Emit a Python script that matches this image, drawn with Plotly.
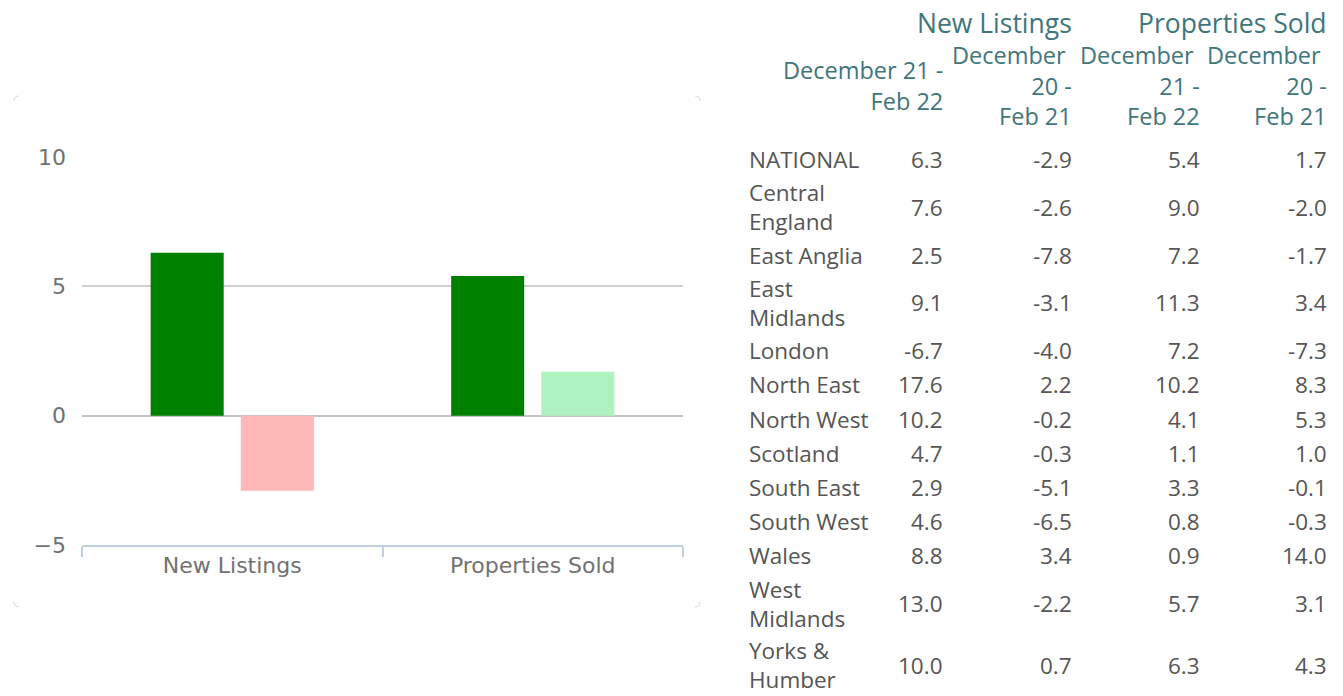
import plotly.graph_objects as go

# ---------------- data ----------------
regions = ["NATIONAL", "Central England", "East Anglia", "East Midlands", "London",
           "North East", "North West", "Scotland", "South East", "South West",
           "Wales", "West Midlands", "Yorks & Humber"]
region_lines = [["NATIONAL"], ["Central", "England"], ["East Anglia"], ["East", "Midlands"],
                ["London"], ["North East"], ["North West"], ["Scotland"], ["South East"],
                ["South West"], ["Wales"], ["West", "Midlands"], ["Yorks &", "Humber"]]
nl_cur = [6.3, 7.6, 2.5, 9.1, -6.7, 17.6, 10.2, 4.7, 2.9, 4.6, 8.8, 13.0, 10.0]
nl_prev = [-2.9, -2.6, -7.8, -3.1, -4.0, 2.2, -0.2, -0.3, -5.1, -6.5, 3.4, -2.2, 0.7]
ps_cur = [5.4, 9.0, 7.2, 11.3, 7.2, 10.2, 4.1, 1.1, 3.3, 0.8, 0.9, 5.7, 6.3]
ps_prev = [1.7, -2.0, -1.7, 3.4, -7.3, 8.3, 5.3, 1.0, -0.1, -0.3, 14.0, 3.1, 4.3]

categories = ["New Listings", "Properties Sold"]
period_cur = "December 21 - Feb 22"
period_prev = "December 20 - Feb 21"
group_headers = ["New Listings", "Properties Sold"]
sub_headers = [["December 21 -", "Feb 22"],
               ["December\u00a0", "20 -", "Feb 21"],
               ["December\u00a0", "21 -", "Feb 22"],
               ["December\u00a0", "20 -", "Feb 21"]]
y_ticks = [-5, 0, 5, 10]

# ---------------- styles ----------------
W, H = 1343, 696
CUR_POS, CUR_NEG = "#008000", "#d00000"
PREV_POS, PREV_NEG = "#AEF2C0", "#FFB8B8"
AXIS_FONT = dict(family="DejaVu Sans, sans-serif", size=22, color="#717171")
TABLE_FAMILY = "Open Sans, Noto Sans, sans-serif"
HEAD_COLOR = "#41757c"
BODY_COLOR = "#555555"


def px(x):
    """screen pixel x -> paper fraction"""
    return x / W


def py(y):
    """screen pixel y -> paper fraction"""
    return 1 - y / H


nat = regions.index("NATIONAL")
cur_vals = [nl_cur[nat], ps_cur[nat]]
prev_vals = [nl_prev[nat], ps_prev[nat]]

fig = go.Figure()
fig.add_trace(go.Bar(name=period_cur, x=categories, y=cur_vals,
                     marker=dict(color=[CUR_POS if v >= 0 else CUR_NEG for v in cur_vals], line_width=0)))
fig.add_trace(go.Bar(name=period_prev, x=categories, y=prev_vals,
                     marker=dict(color=[PREV_POS if v >= 0 else PREV_NEG for v in prev_vals], line_width=0)))

fig.update_layout(
    width=W, height=H,
    margin=dict(l=0, r=0, t=0, b=0),
    paper_bgcolor="white", plot_bgcolor="white",
    barmode="group", bargap=0.40, bargroupgap=0.19,
    showlegend=False,
    xaxis=dict(domain=[px(82), px(683)], automargin=False, showgrid=False,
               showline=True, linecolor="#C0D0E0", linewidth=1.5,
               ticks="outside", tickson="boundaries", ticklen=10, tickcolor="#C0D0E0",
               tickwidth=1.5, tickfont=AXIS_FONT, zeroline=False, fixedrange=True),
    yaxis=dict(domain=[py(545), py(157)], automargin=False, range=[-5, 10],
               tickvals=y_ticks, showgrid=True, gridcolor="#cfcfcf", gridwidth=1.5,
               zeroline=True, zerolinecolor="#c4c4c4", zerolinewidth=1.5,
               tickfont=AXIS_FONT, ticklabelstandoff=15, showline=False, fixedrange=True),
)

# faint rounded-corner marks of the chart container
corner_r = 5
L_, R_, T_, B_ = 14, 700, 96, 607
corners = [
    [(L_, T_ + corner_r), (L_, T_), (L_ + corner_r, T_)],
    [(R_ - corner_r, T_), (R_, T_), (R_, T_ + corner_r)],
    [(L_, B_ - corner_r), (L_, B_), (L_ + corner_r, B_)],
    [(R_ - corner_r, B_), (R_, B_), (R_, B_ - corner_r)],
]
shapes = []
for (a, b, c) in corners:
    path = (f"M {px(a[0])},{py(a[1])} Q {px(b[0])},{py(b[1])} {px(c[0])},{py(c[1])}")
    shapes.append(dict(type="path", xref="paper", yref="paper", path=path,
                       line=dict(color="#d9d9d9", width=1)))
fig.update_layout(shapes=shapes)

# ---------------- table (text) ----------------
ann = []
col_right = [945, 1074, 1202, 1329]
label_left = 747
head_size, sub_size, body_size = 26.5, 23.5, 22.5
row_h_single, row_h_double = 34.2, 61.4


def text(s, x, y, anchor, size, color, align="left"):
    ann.append(dict(text=s, x=px(x), y=py(y), xref="paper", yref="paper",
                    xanchor=anchor, yanchor="middle", align=align, showarrow=False,
                    font=dict(family=TABLE_FAMILY, size=size, color=color)))


# group headers (right aligned over the second column of each pair)
text(group_headers[0], col_right[1], 23, "right", head_size, HEAD_COLOR, "right")
text(group_headers[1], col_right[3], 23, "right", head_size, HEAD_COLOR, "right")

sub_mid = 85.5
for c, lines in enumerate(sub_headers):
    text("<br>".join(lines), col_right[c], sub_mid, "right", sub_size, HEAD_COLOR, "right")

# body rows
y_top = 142.4
cols = [nl_cur, nl_prev, ps_cur, ps_prev]
for r, lines in enumerate(region_lines):
    h = row_h_single if len(lines) == 1 else row_h_double
    mid = y_top + h / 2
    text("<br>".join(lines), label_left, mid, "left", body_size, BODY_COLOR, "left")
    for c in range(4):
        text(f"{cols[c][r]:.1f}", col_right[c], mid, "right", body_size, BODY_COLOR, "right")
    y_top += h

fig.update_layout(annotations=ann)

fig.write_html("out.html", config={"displayModeBar": False},
               post_script="document.body.style.margin='0';")
